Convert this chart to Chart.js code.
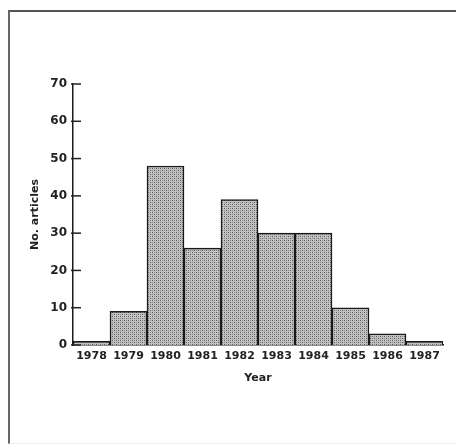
<!DOCTYPE html>
<html>
<head>
<meta charset="utf-8">
<script src="https://cdn.jsdelivr.net/npm/chart.js@4"></script>
<style>
    body { margin: 0; background: #fff; }
    #wrap { position: relative; width: 456px; height: 447px; overflow: hidden; }
    #frame {
        position: absolute; left: 8px; top: 10px; width: 460px; height: 431px;
        border-top: 2px solid #555; border-left: 2px solid #666;
        border-bottom: 1px solid #ececec;
        pointer-events: none;
    }
</style>
</head>
<body>
<div id="wrap">
    <canvas id="histChart" width="456" height="447"></canvas>
    <div id="frame"></div>
</div>
<script>
const years = ['1978', '1979', '1980', '1981', '1982', '1983', '1984', '1985', '1986', '1987'];
const articles = [1, 9, 48, 26, 39, 30, 30, 10, 3, 1];
const yMax = 70;
const yStep = 10;

// halftone-ish stipple like the scanned bars
function stipple() {
    const c = document.createElement('canvas');
    c.width = 4; c.height = 4;
    const g = c.getContext('2d');
    g.fillStyle = '#c2c2c2';
    g.fillRect(0, 0, 4, 4);
    g.fillStyle = '#5a5a5a';
    g.fillRect(0, 0, 1, 1);
    g.fillRect(2, 2, 1, 1);
    g.fillStyle = '#8c8c8c';
    g.fillRect(2, 0, 1, 1);
    g.fillRect(0, 2, 1, 1);
    return g.createPattern(c, 'repeat');
}

// tick marks point inward from the y axis, as in the original
const innerTicks = {
    id: 'innerTicks',
    afterDraw(chart) {
        const y = chart.scales.y;
        const ctx = chart.ctx;
        ctx.save();
        ctx.strokeStyle = '#222';
        ctx.lineWidth = 1.5;
        y.ticks.forEach(t => {
            const py = y.getPixelForValue(t.value);
            ctx.beginPath();
            ctx.moveTo(y.right - 2, py);
            ctx.lineTo(y.right + 8, py);
            ctx.stroke();
        });
        ctx.restore();
    }
};

const labelFont = { family: 'DejaVu Sans', weight: 'bold', size: 11 };

new Chart(document.getElementById('histChart'), {
    type: 'bar',
    data: {
        labels: years,
        datasets: [{
            data: articles,
            backgroundColor: stipple(),
            borderColor: '#1a1a1a',
            borderWidth: 1.5,
            categoryPercentage: 1,
            barPercentage: 1
        }]
    },
    options: {
        responsive: false,
        animation: false,
        layout: { padding: { top: 84, right: 13, left: 0, bottom: 0 } },
        plugins: { legend: { display: false }, tooltip: { enabled: false } },
        scales: {
            x: {
                grid: { display: false, drawTicks: false },
                border: { display: true, color: '#1a1a1a', width: 1.5 },
                ticks: { color: '#222', font: labelFont, padding: 5, maxRotation: 0, autoSkip: false },
                title: {
                    display: true, text: 'Year', color: '#222',
                    font: { family: 'DejaVu Sans', weight: 'bold', size: 11 },
                    padding: { top: 0, bottom: 62 }
                },
                afterFit: s => { s.height = 102; }
            },
            y: {
                min: 0, max: yMax,
                grid: { display: false, drawTicks: false },
                border: { display: true, color: '#1a1a1a', width: 1.5 },
                ticks: { stepSize: yStep, color: '#222', font: { family: 'DejaVu Sans', weight: 'bold', size: 12 }, padding: 6 },
                title: {
                    display: true, text: 'No. articles', color: '#222',
                    font: { family: 'DejaVu Sans', weight: 'bold', size: 11 },
                    padding: { top: 29, bottom: 0 }
                },
                afterFit: s => { s.width = 73; }
            }
        }
    },
    plugins: [innerTicks]
});
</script>
</body>
</html>
